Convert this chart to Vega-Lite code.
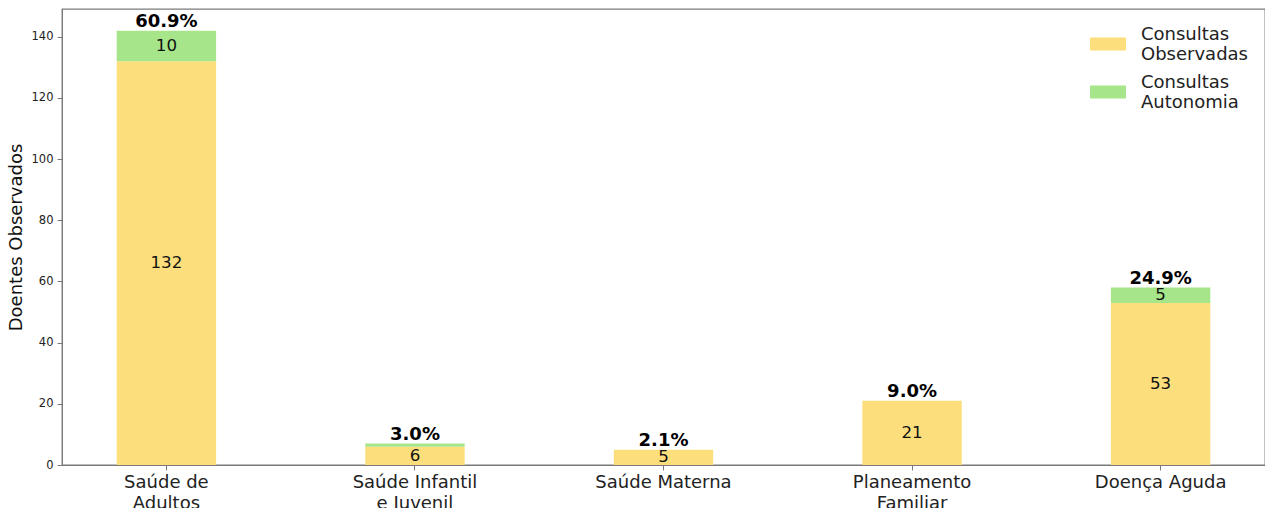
{
  "$schema": "https://vega.github.io/schema/vega-lite/v6.json",
  "width": 1203,
  "height": 456,
  "autosize": {"type": "none"},
  "padding": {"left": 62, "top": 9, "right": 0, "bottom": 43},
  "background": "white",
  "config": {
    "font": "DejaVu Sans",
    "view": {"stroke": "#7a7a7a", "strokeWidth": 1.3},
    "axis": {"grid": false, "domainColor": "#7a7a7a", "tickColor": "#7a7a7a", "labelColor": "#222222", "titleColor": "#111111", "titleFontWeight": "normal", "labelFont": "DejaVu Sans", "titleFont": "DejaVu Sans"}
  },
  "datasets": {
    "counts": [
      {"cat": "Saúde de Adultos", "serie": "Consultas Observadas", "ord": 1, "value": 132},
      {"cat": "Saúde de Adultos", "serie": "Consultas Autonomia", "ord": 2, "value": 10},
      {"cat": "Saúde Infantil e Juvenil", "serie": "Consultas Observadas", "ord": 1, "value": 6},
      {"cat": "Saúde Infantil e Juvenil", "serie": "Consultas Autonomia", "ord": 2, "value": 1},
      {"cat": "Saúde Materna", "serie": "Consultas Observadas", "ord": 1, "value": 5},
      {"cat": "Saúde Materna", "serie": "Consultas Autonomia", "ord": 2, "value": 0},
      {"cat": "Planeamento Familiar", "serie": "Consultas Observadas", "ord": 1, "value": 21},
      {"cat": "Planeamento Familiar", "serie": "Consultas Autonomia", "ord": 2, "value": 0},
      {"cat": "Doença Aguda", "serie": "Consultas Observadas", "ord": 1, "value": 53},
      {"cat": "Doença Aguda", "serie": "Consultas Autonomia", "ord": 2, "value": 5}
    ],
    "totals": [
      {"cat": "Saúde de Adultos", "total": 142, "pct": "60.9%"},
      {"cat": "Saúde Infantil e Juvenil", "total": 7, "pct": "3.0%"},
      {"cat": "Saúde Materna", "total": 5, "pct": "2.1%"},
      {"cat": "Planeamento Familiar", "total": 21, "pct": "9.0%"},
      {"cat": "Doença Aguda", "total": 58, "pct": "24.9%"}
    ]
  },
  "layer": [
    {
      "data": {"name": "counts"},
      "mark": {"type": "bar"},
      "encoding": {
        "x": {
          "field": "cat", "type": "nominal",
          "sort": ["Saúde de Adultos", "Saúde Infantil e Juvenil", "Saúde Materna", "Planeamento Familiar", "Doença Aguda"],
          "scale": {"type": "band", "paddingInner": 0.6, "paddingOuter": 0.22},
          "axis": {
            "title": null, "labelAngle": 0, "labelFontSize": 18, "tickSize": 5, "labelPadding": 3, "labelLineHeight": 21,
            "labelExpr": "datum.label == 'Saúde de Adultos' ? ['Saúde de', 'Adultos'] : datum.label == 'Saúde Infantil e Juvenil' ? ['Saúde Infantil', 'e Juvenil'] : datum.label == 'Planeamento Familiar' ? ['Planeamento', 'Familiar'] : datum.label"
          }
        },
        "y": {
          "field": "value", "type": "quantitative", "stack": "zero",
          "scale": {"domain": [0, 149.1], "nice": false},
          "axis": {"title": "Doentes Observados", "titleFontSize": 18, "titlePadding": 6, "labelFontSize": 11.5, "tickSize": 5, "labelPadding": 4, "values": [0, 20, 40, 60, 80, 100, 120, 140]}
        },
        "order": {"field": "ord", "type": "quantitative", "sort": "ascending"},
        "color": {
          "field": "serie", "type": "nominal",
          "scale": {"domain": ["Consultas Observadas", "Consultas Autonomia"], "range": ["#FCDF7C", "#A6E58A"]},
          "legend": {
            "title": null, "orient": "none", "legendX": 1028, "legendY": 17, "padding": 0,
            "symbolType": "M-1,-0.36H1V0.36H-1Z", "symbolSize": 1296, "symbolStrokeWidth": 0,
            "labelFontSize": 18, "labelColor": "#222222", "labelOffset": 15, "labelLimit": 0, "rowPadding": 10,
            "labelExpr": "split(datum.label, ' ')",
            "labelBaseline": "bottom"
          }
        }
      }
    },
    {
      "data": {"name": "counts"},
      "transform": [{"filter": "datum.value > 1"}],
      "mark": {"type": "text", "fontSize": 16.7, "color": "#111111", "baseline": "middle", "align": "center"},
      "encoding": {
        "x": {"field": "cat", "type": "nominal", "sort": ["Saúde de Adultos", "Saúde Infantil e Juvenil", "Saúde Materna", "Planeamento Familiar", "Doença Aguda"]},
        "y": {"field": "value", "type": "quantitative", "stack": "zero", "bandPosition": 0.5},
        "order": {"field": "ord", "type": "quantitative", "sort": "ascending"},
        "detail": {"field": "serie", "type": "nominal"},
        "text": {"field": "value", "type": "quantitative"}
      }
    },
    {
      "data": {"name": "totals"},
      "mark": {"type": "text", "fontSize": 18, "fontWeight": "bold", "color": "#000000", "baseline": "alphabetic", "align": "center", "dy": -4},
      "encoding": {
        "x": {"field": "cat", "type": "nominal", "sort": ["Saúde de Adultos", "Saúde Infantil e Juvenil", "Saúde Materna", "Planeamento Familiar", "Doença Aguda"]},
        "y": {"field": "total", "type": "quantitative"},
        "text": {"field": "pct", "type": "nominal"}
      }
    }
  ]
}
